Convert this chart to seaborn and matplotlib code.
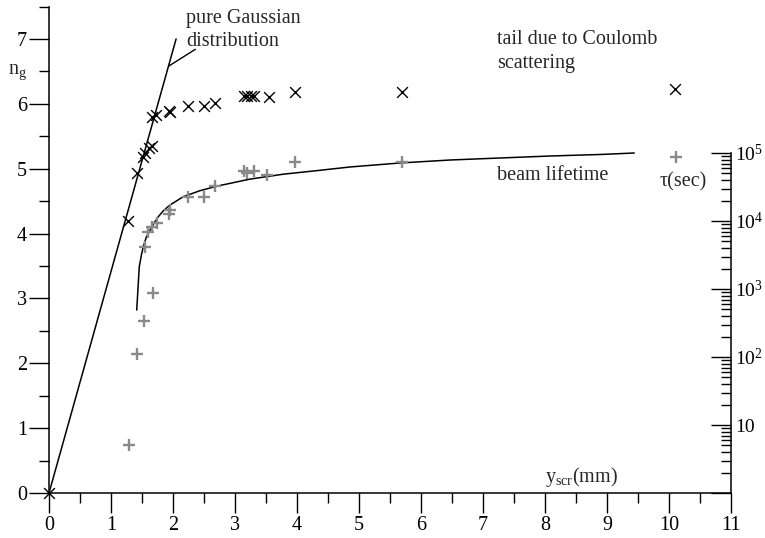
import numpy as np
import pandas as pd
import matplotlib
matplotlib.use("Agg")
import matplotlib.pyplot as plt
import seaborn as sns
from matplotlib.ticker import FixedLocator, FixedFormatter, NullFormatter

sns.set_theme(style="white")
plt.rcParams["font.family"] = ["Liberation Serif", "DejaVu Serif"]
plt.rcParams["mathtext.fontset"] = "custom"
plt.rcParams["mathtext.rm"] = "Liberation Serif"
plt.rcParams["mathtext.it"] = "Liberation Serif:italic"

# ---- data ----
# n_g (left axis) vs y_scr
ng_x = [0.0, 1.28, 1.42, 1.52, 1.55, 1.62, 1.66, 1.66, 1.73, 1.94, 1.95,
        2.24, 2.50, 2.68, 3.15, 3.20, 3.25, 3.30, 3.55, 3.97, 5.70, 10.10]
ng_y = [0.0, 4.20, 4.94, 5.18, 5.24, 5.32, 5.35, 5.80, 5.83, 5.89, 5.87,
        5.97, 5.97, 6.02, 6.12, 6.12, 6.12, 6.12, 6.10, 6.18, 6.18, 6.23]

# beam lifetime tau (right log axis) vs y_scr
tau_x = [1.29, 1.42, 1.54, 1.67, 1.55, 1.60, 1.66, 1.74, 1.94, 1.95,
         2.24, 2.50, 2.68, 3.15, 3.20, 3.30, 3.51, 3.96, 5.69, 10.11]
tau_y = [5.0, 111, 338, 865, 4190, 6960, 8240, 9250, 12550, 14500,
         22300, 22300, 32700, 54300, 50000, 54300, 47500, 73000, 73500, 87000]

# pure Gaussian line
gauss_x = [0.0, 2.05]
gauss_y = [0.0, 7.0]

# beam lifetime curve (tau units)
life_x = [1.415, 1.435, 1.456, 1.49, 1.521, 1.57, 1.629, 1.70, 1.763, 1.85,
          1.952, 2.166, 2.435, 2.705, 3.242, 3.779, 4.318, 4.855, 5.66,
          6.47, 7.27, 8.08, 8.89, 9.44]
life_y = [490, 1010, 2130, 3150, 4210, 5800, 7300, 9500, 11600, 14300,
          17200, 22800, 27900, 32500, 41300, 48800, 55000, 62300, 71300,
          78900, 84400, 90300, 95100, 100000]

# leader line of the "pure Gaussian" label
leader_x = [1.93, 2.36]
leader_y = [6.58, 6.84]

x_ticks = list(range(0, 12))
y_ticks = list(range(0, 8))
tau_ticks = [1, 10, 100, 1e3, 1e4, 1e5]
tau_labels = ["", "10", r"10$^\mathrm{2}$", r"10$^\mathrm{3}$",
              r"10$^\mathrm{4}$", r"10$^\mathrm{5}$"]

# ---- figure ----
W, H = 765, 538
fig = plt.figure(figsize=(W / 100, H / 100), dpi=100)
fig.patch.set_facecolor("white")
ax = fig.add_axes([49 / W, 45 / H, 682 / W, 486.5 / H])
ax.set_facecolor("white")
ax.set_xlim(0, 11)
ax.set_ylim(0, 7.5)

ng_df = pd.DataFrame({"x": ng_x, "y": ng_y})
tau_df = pd.DataFrame({"x": tau_x, "tau": tau_y})
gauss_df = pd.DataFrame({"x": gauss_x, "y": gauss_y})
life_df = pd.DataFrame({"x": life_x, "tau": life_y})

sns.lineplot(data=gauss_df, x="x", y="y", ax=ax, color="black", lw=1.1,
             sort=False, estimator=None)
ax.plot(leader_x, leader_y, color="black", lw=1.0)
sns.scatterplot(data=ng_df, x="x", y="y", ax=ax, marker="x",
                color="black", s=60, linewidth=1.0, zorder=5)
for c in ax.collections:
    c.set_clip_on(False)

for s in ["top", "right"]:
    ax.spines[s].set_visible(False)
for s in ["left", "bottom"]:
    ax.spines[s].set_color("black")
    ax.spines[s].set_linewidth(1.1)

ax.xaxis.set_major_locator(FixedLocator(x_ticks))
ax.xaxis.set_minor_locator(FixedLocator(np.arange(0.5, 11, 1.0)))
ax.yaxis.set_major_locator(FixedLocator(y_ticks))
ax.yaxis.set_minor_locator(FixedLocator(np.arange(0.5, 7.6, 1.0)))
ax.tick_params(which="major", direction="out", length=14.4, width=1.0,
               color="black", labelsize=14.5, labelcolor="black")
ax.tick_params(which="minor", direction="out", length=7.2, width=1.0,
               color="black")
ax.tick_params(axis="x", which="major", pad=2)
ax.tick_params(axis="y", which="major", pad=1.5)
ax.tick_params(left=True, bottom=True, which="both")
ax.set_xlabel("")
ax.set_ylabel("")

# right log axis
ax2 = ax.twinx()
ax2.set_yscale("log")
ax2.set_ylim(1, 10 ** (486.5 / 68))
sns.lineplot(data=life_df, x="x", y="tau", ax=ax2, color="black", lw=1.1,
             sort=False, estimator=None)
sns.scatterplot(data=tau_df, x="x", y="tau", ax=ax2, marker="+",
                color="#8a8a8a", s=85, linewidth=1.7, zorder=4)
for c in ax2.collections:
    c.set_clip_on(False)
for s in ["top", "left", "bottom"]:
    ax2.spines[s].set_visible(False)
ax2.spines["right"].set_color("black")
ax2.spines["right"].set_linewidth(1.1)
ax2.spines["right"].set_bounds(1, 1e5)
ax2.yaxis.set_major_locator(FixedLocator(tau_ticks))
ax2.yaxis.set_major_formatter(FixedFormatter(tau_labels))
minor = [m * 10 ** d for d in range(0, 5) for m in range(2, 10)]
ax2.yaxis.set_minor_locator(FixedLocator(minor))
ax2.yaxis.set_minor_formatter(NullFormatter())
ax2.tick_params(which="major", direction="in", length=14.4, width=1.0,
                color="black", labelsize=14, labelcolor="black", pad=3)
ax2.tick_params(which="minor", direction="in", length=7.2, width=1.0,
                color="black")
ax2.tick_params(right=True, which="both")
ax2.set_xlabel("")
ax2.set_ylabel("")
ax2.set_xlim(0, 11)

# texts
def px(x, y):
    return x / W, 1 - y / H

fig.text(*px(186, 9), "pure Gaussian\ndistribution", fontsize=14.5,
         va="top", ha="left", linespacing=1.3)
fig.text(*px(497, 30), "tail due to Coulomb\nscattering", fontsize=14.5,
         va="top", ha="left", linespacing=1.35)
fig.text(*px(497, 176), "beam lifetime", fontsize=14.5, va="center",
         ha="left")
fig.text(*px(8, 72), r"n$_\mathrm{g}$", fontsize=14.5, va="center",
         ha="left")
fig.text(*px(545, 477), r"y$_\mathrm{scr}$(mm)", fontsize=14.5,
         va="center", ha="left")
fig.text(*px(707, 182), "τ(sec)", fontsize=14.5, va="center", ha="right")

fig.savefig("out.png", dpi=100, facecolor="white")
